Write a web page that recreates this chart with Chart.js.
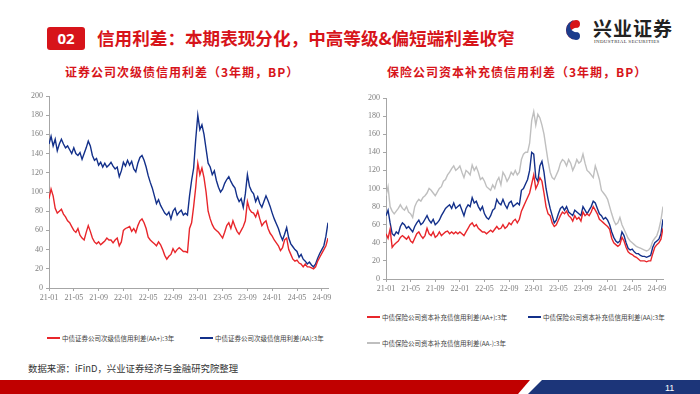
<!DOCTYPE html>
<html><head><meta charset="utf-8">
<script src="https://cdn.jsdelivr.net/npm/chart.js@4/dist/chart.umd.min.js"></script>
<style>
html,body{margin:0;padding:0;background:#fff;}
body{width:700px;height:394px;position:relative;overflow:hidden;font-family:"Noto Sans CJK SC","Noto Sans",sans-serif;}
.abs{position:absolute;}
#badge{left:47px;top:27px;width:38px;height:23px;background:#D7141A;border-radius:3px;color:#fff;font:bold 15px "Noto Sans","Liberation Sans",sans-serif;text-align:center;line-height:23px;}
#title{left:97px;top:26px;font-weight:bold;font-size:17.6px;color:#D7141A;white-space:nowrap;line-height:24px;}
.ctitle{top:63px;font-size:12px;letter-spacing:1px;color:#D7141A;font-weight:bold;white-space:nowrap;line-height:18px;}
.leg{font-size:6.5px;color:#404040;white-space:nowrap;line-height:8px;display:flex;align-items:center;}
.leg i{display:inline-block;width:13px;height:2px;margin-right:2px;}
#foot{left:28px;top:361px;font-size:9.4px;color:#333;white-space:nowrap;}
</style></head>
<body>
<div id="badge" class="abs">02</div>
<div id="title" class="abs">信用利差：本期表现分化，中高等级&amp;偏短端利差收窄</div>
<svg class="abs" style="left:560px;top:14px" width="140" height="40" viewBox="0 0 140 40">
  <path d="M16 6 A10 10 0 1 0 16 26 A6 6 0 0 1 16 14 A4 4 0 0 0 16 6 Z" fill="#D7141A"/>
  <path d="M16 6 A10 10 0 0 1 16 26 A6 6 0 0 0 16 14 A4 4 0 0 1 16 6 Z" fill="#1C3C8C" transform="rotate(180 16 16) translate(0 0)"/>
  <circle cx="16" cy="16" r="2.2" fill="#fff"/>
  <text x="33" y="22" font-family="Noto Sans CJK SC" font-weight="bold" font-size="19" fill="#222" letter-spacing="1">兴业证券</text>
  <text x="34" y="29" font-family="Liberation Serif" font-size="5" fill="#333" letter-spacing="0.3">INDUSTRIAL SECURITIES</text>
</svg>
<div class="abs ctitle" style="left:65px">证券公司次级债信用利差（3年期，BP）</div>
<div class="abs ctitle" style="left:387px">保险公司资本补充债信用利差（3年期，BP）</div>
<div class="abs" style="left:0;top:80px;width:340px;height:230px"><canvas id="c1" width="340" height="230"></canvas></div>
<div class="abs" style="left:340px;top:80px;width:340px;height:221px"><canvas id="c2" width="340" height="221"></canvas></div>
<div class="abs leg" style="left:47px;top:334px"><i style="background:#E8262B"></i>中债证券公司次级债信用利差(AA+):3年</div>
<div class="abs leg" style="left:200px;top:334px"><i style="background:#13308A"></i>中债证券公司次级债信用利差(AA):3年</div>
<div class="abs leg" style="left:367px;top:313px"><i style="background:#E8262B"></i>中债保险公司资本补充债信用利差(AA+):3年</div>
<div class="abs leg" style="left:528px;top:313px"><i style="background:#13308A"></i>中债保险公司资本补充债信用利差(AA):3年</div>
<div class="abs leg" style="left:367px;top:339px"><i style="background:#BFBFBF"></i>中债保险公司资本补充债信用利差(AA-):3年</div>
<div id="foot" class="abs">数据来源：iFinD，兴业证券经济与金融研究院整理</div>
<svg class="abs" style="left:0;top:380px" width="700" height="14">
  <polygon points="0,0 530,0 518,14 0,14" fill="#C00000"/>
  <polygon points="542,0 700,0 700,14 528,14" fill="#1C3579"/>
  <text x="665" y="11" font-family="Liberation Sans" font-size="9" fill="#fff">11</text>
</svg>
<script>
// tick labels for x axis (every 4 months)
const tickLabels = ["21-01","21-05","21-09","22-01","22-05","22-09","23-01","23-05","23-09","24-01","24-05","24-09"];
const yTicks = [0,20,40,60,80,100,120,140,160,180,200];
// values: 3 readings per month starting 21-01
const secAAplus = [93,103,96, 83,78,80, 82,77,74, 70,68,64, 60,58,62, 55,52,50, 58,65,59, 52,48,46, 48,45,47, 49,52,50, 50,47,50, 52,44,48,
 60,62,63, 64,59,62, 58,65,70, 72,68,62, 53,50,48, 46,44,48, 45,40,34, 30,33,35, 41,37,40, 42,40,38, 38,37,62, 68,85,105,
 130,118,125, 115,100,80, 72,66,62, 60,58,55, 52,58,65, 68,62,70, 64,59,56, 60,64,70, 90,82,79, 78,74,80, 72,65,68, 70,62,57,
 54,50,47, 44,39,42, 50,52,40, 35,30,28, 29,26,25, 22,25,22, 22,21,20, 22,28,32, 36,40,44, 52];
const secAA = [150,158,148, 155,143,150, 155,150,146, 148,144,140, 146,140,138, 141,134,140, 146,153,148, 138,133,135, 128,131,126, 130,126,128, 131,127,124, 126,116,122,
 131,127,133, 128,132,124, 121,130,136, 138,133,126, 117,110,104, 96,88,92, 86,82,78, 76,79,72, 80,83,76, 79,81,76, 78,76,96, 112,125,155,
 180,165,170, 160,145,130, 126,118,122, 112,105,100, 103,109,113, 116,111,107, 104,95,90, 93,84,98, 118,106,101, 98,90,95, 88,84,90, 96,91,85,
 78,72,67, 62,55,50, 56,63,52, 46,43,40, 38,32,35, 30,28,25, 27,24,22, 25,31,36, 40,44,54, 68];
const insAAplus = [50,45,55, 35,38,40, 42,46,48, 46,44,47, 42,40,45, 50,52,48, 45,48,56, 50,48,52, 46,48,52, 48,50,52, 53,50,52, 50,52,50,
 52,50,48, 52,56,60, 62,58,60, 56,54,52, 52,50,52, 54,52,55, 58,55,56, 60,56,58, 62,60,64, 66,62,66, 75,80,85, 90,95,105,
 115,100,105, 112,108,95, 80,72,70, 62,58,60, 65,70,74, 72,75,70, 68,64,70, 66,68,64, 74,70,72, 70,74,80, 76,72,66, 64,62,60,
 58,55,45, 40,38,36, 38,46,42, 35,30,28, 27,25,24, 22,20,20, 20,19,20, 20,28,35, 38,40,44, 56];
const insAA = [70,76,62, 50,48,52, 50,58,62, 60,56,58, 55,52,58, 62,65,60, 62,66,70, 65,62,66, 60,62,65, 70,74,78, 80,82,78, 84,78,80,
 82,76,70, 78,82,80, 90,84,86, 80,76,80, 72,68,66, 70,76,78, 88,84,82, 88,82,78, 84,86,80, 82,84,82, 98,100,105, 110,120,140,
 138,112,108, 125,130,118, 100,88,78, 70,62,65, 72,78,80, 76,80,74, 72,70,76, 74,72,70, 80,76,72, 76,80,86, 84,78,72, 70,66,68,
 65,60,52, 46,42,40, 42,52,48, 40,34,32, 33,30,28, 28,26,25, 25,24,25, 26,35,40, 42,44,50, 66];
const insAAminus = [92,102,80, 75,72,75, 78,82,78, 76,80,74, 72,68,80, 85,88,86, 90,92,95, 100,98,95, 92,96,100, 102,108,110, 115,118,122, 125,120,122,
 125,118,112, 120,118,115, 126,120,124, 118,110,112, 108,102,100, 98,104,100, 108,112,104, 118,114,108, 112,118,115, 120,115,118, 132,138,140, 140,150,175,
 185,170,182, 178,170,160, 145,130,118, 112,110,115, 120,128,132, 130,125,132, 128,120,125, 132,128,130, 138,128,120, 118,115,112, 125,118,110, 98,95,92,
 88,80,72, 65,60,62, 68,60,55, 50,45,42, 40,38,36, 35,34,33, 32,31,32, 35,42,45, 48,55,65, 80];

const RED = '#E8262B', BLUE = '#13308A', GREY = '#BFBFBF';
const pts = arr => arr.map((v,i)=>({x:i/3, y:v}));

function makeChart(id, sets, yW, pad){
  const tickFont = {family:'"Liberation Serif","DejaVu Serif",serif', size:8};
  new Chart(document.getElementById(id), {
    type:'line',
    data:{datasets:sets.map(s=>({data:pts(s.v), borderColor:s.c, borderWidth:1.4, pointRadius:0, tension:0, fill:false}))},
    options:{
      responsive:false, animation:false, events:[],
      layout:{padding:pad},
      plugins:{legend:{display:false}, tooltip:{enabled:false}},
      scales:{
        x:{type:'linear', min:0, max:45,
           afterFit:s=>{s.height=22;},
           ticks:{stepSize:4, includeBounds:false, autoSkip:false, maxRotation:0, font:tickFont, color:'#7F7F7F', padding:2,
                  callback:v=>tickLabels[Math.round(v/4)]},
           grid:{drawOnChartArea:false, drawTicks:true, tickLength:3, color:'#A6A6A6'},
           border:{color:'#A6A6A6', width:1}},
        y:{min:0, max:200,
           afterFit:s=>{s.width=yW;},
           afterBuildTicks:s=>{s.ticks=yTicks.map(v=>({value:v}));},
           ticks:{font:tickFont, color:'#7F7F7F', padding:3},
           grid:{drawOnChartArea:false, drawTicks:true, tickLength:3, color:'#A6A6A6'},
           border:{color:'#A6A6A6', width:1}}
      }
    }
  });
}
makeChart('c1', [{v:secAAplus,c:RED},{v:secAA,c:BLUE}], 49, {top:16,right:12,left:0,bottom:0});
makeChart('c2', [{v:insAAplus,c:RED},{v:insAA,c:BLUE},{v:insAAminus,c:GREY}], 46, {top:18,right:17,left:0,bottom:0});
</script>
</body></html>
